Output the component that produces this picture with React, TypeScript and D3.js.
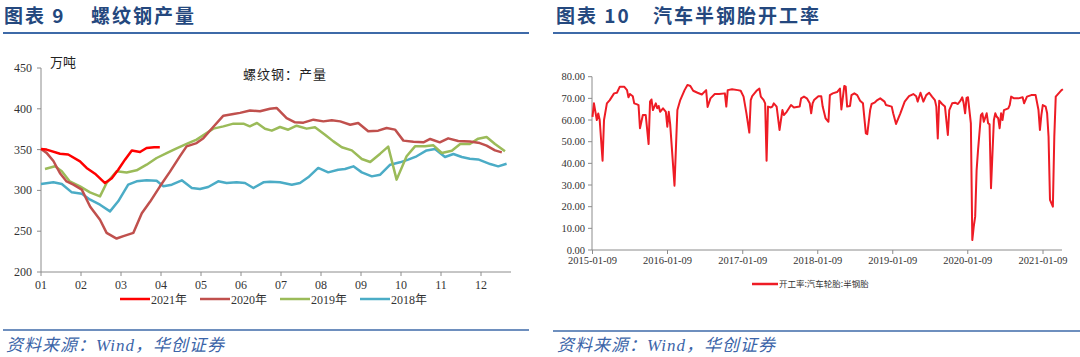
import React from "react";
import * as d3 from "d3";

// ---------- Left chart: 螺纹钢产量 (万吨), x = month position (1 = Jan) ----------
const monthLabels = ["01","02","03","04","05","06","07","08","09","10","11","12"];
const leftYTicks = [200, 250, 300, 350, 400, 450];
const seriesNames = ["2021年", "2020年", "2019年", "2018年"];

const s2021: [number, number][] = [[1.0,350.7],[1.14,350],[1.475,345],[1.68,344],[1.975,335.6],[2.14,327.5],[2.35,320.5],[2.6,309],[2.77,315],[2.93,325.4],[3.1,337.7],[3.27,349],[3.475,347],[3.64,352],[3.83,353],[3.97,353]];
const s2020: [number, number][] = [[1.0,350.7],[1.14,346],[1.31,336],[1.475,321],[1.64,311],[1.81,307],[2.02,301],[2.23,280],[2.475,264],[2.64,248],[2.89,241],[3.06,244],[3.31,248],[3.52,272],[3.725,286],[3.975,305],[4.225,323],[4.475,342],[4.64,354],[4.89,358],[5.06,364],[5.31,378],[5.56,391.6],[5.81,393.6],[5.975,395],[6.225,398],[6.475,397],[6.725,400],[6.89,401],[7.14,388.7],[7.35,383.4],[7.56,383],[7.81,386.7],[8.06,384.6],[8.27,385.9],[8.48,384.6],[8.73,380.5],[8.93,382.6],[9.18,372.4],[9.43,373.2],[9.64,376.5],[9.85,374.5],[10.06,361],[10.31,359.7],[10.56,358.9],[10.73,363],[10.97,358.9],[11.18,363.8],[11.43,360.5],[11.72,360],[11.97,358],[12.14,354.8],[12.35,349],[12.52,346.6]];
const s2019: [number, number][] = [[1.1,326.2],[1.35,329.5],[1.52,323.4],[1.72,311],[1.975,305],[2.225,297.6],[2.475,292.7],[2.64,309],[2.89,323.4],[3.14,322],[3.39,324.6],[3.64,331.5],[3.89,339.7],[4.14,345.8],[4.39,351.6],[4.64,356.9],[4.89,362.2],[5.14,370.3],[5.31,375.7],[5.56,378.5],[5.81,381.8],[6.06,381.8],[6.22,378.5],[6.4,382.6],[6.6,375.5],[6.77,373.2],[6.975,377.7],[7.18,374.4],[7.39,379.3],[7.64,375.7],[7.85,377.3],[8.1,368.3],[8.31,360.1],[8.52,352.8],[8.77,349],[9.02,338.5],[9.23,334.8],[9.48,345],[9.68,353.6],[9.89,313.2],[10.14,341.8],[10.35,354],[10.6,354],[10.81,355.2],[11.02,345.8],[11.27,348.7],[11.48,356.9],[11.72,356.9],[11.93,363.4],[12.14,365.5],[12.35,356.9],[12.6,347.9]];
const s2018: [number, number][] = [[1.0,307.8],[1.31,309.9],[1.52,307.8],[1.77,297.6],[2.02,296],[2.23,288.6],[2.475,282.5],[2.725,274.3],[2.93,286.6],[3.18,307],[3.39,311.1],[3.64,312.3],[3.89,311.9],[4.06,305],[4.27,307],[4.52,312.3],[4.77,302.9],[4.975,301.7],[5.18,304.2],[5.43,311.1],[5.64,309.1],[5.89,309.9],[6.1,309.1],[6.31,302.9],[6.56,309.9],[6.725,310.7],[6.975,309.9],[7.27,307],[7.475,309.1],[7.68,316],[7.93,327.5],[8.18,322.1],[8.43,325.4],[8.6,326.2],[8.81,329.5],[9.02,322.1],[9.27,317.2],[9.48,319.3],[9.73,331.5],[9.975,334.4],[10.18,337.7],[10.39,341.8],[10.64,349],[10.85,350.7],[11.1,340.9],[11.31,344.6],[11.52,340.9],[11.72,338.9],[11.93,338],[12.23,332.3],[12.43,329.5],[12.64,332.7]];

// ---------- Right chart: 开工率:汽车轮胎:半钢胎 (%), x = weeks since 2015-01-09 ----------
const rightYTicks = [0, 10, 20, 30, 40, 50, 60, 70, 80];
const rightXTickLabels = ["2015-01-09","2016-01-09","2017-01-09","2018-01-09","2019-01-09","2020-01-09","2021-01-09"];
const rateWeeks: number[] = [0,1,3,4,5,7,8,10,12,15,17,19,22,24,25,26,28,29,31,32,33,35,37,39,40,41,42,44,45,46,47,49,51,52,53,54,57,59,61,64,66,68,70,73,76,79,80,82,85,88,92,93,94,97,101,103,105,107,109,110,111,114,116,117,119,120,121,122,124,125,126,128,130,132,133,135,138,140,144,145,147,149,151,152,153,154,157,159,160,162,164,165,167,170,172,173,175,176,177,179,180,182,184,186,188,190,191,193,194,196,198,200,203,204,208,209,211,214,217,220,223,225,226,228,230,232,234,236,238,239,240,241,243,245,247,248,250,252,254,256,257,258,259,260,261,263,264,265,266,267,268,270,271,272,274,275,276,277,279,280,281,282,283,284,285,286,289,290,291,293,296,299,300,302,305,308,310,311,312,313,315,316,317,318,320,321,322,324,326,327];
const rateValues: number[] = [61.5,67.7,60,63,60,41.2,60,67.7,69.2,72.3,72.6,75.4,75.4,73.8,70.5,72,71,67.7,67.2,66.9,56.2,62.3,62.3,48.9,68.5,69.5,64.6,67.7,65.4,66.5,63.8,65.4,63.8,56.9,63.8,58,29.7,64.6,69.2,73.8,76.2,75.7,73.5,72.6,71.8,73.8,66,70,72,72,72.3,66.2,73.8,74.2,73.8,73.5,70.8,63.1,54.2,69.2,71,73.5,74.5,70.8,69.2,67.7,41.2,66.2,65.8,66.2,67.7,66.2,55.4,64.6,62.3,63.8,66.9,65.8,66.2,70,70.8,70,67.7,63.1,67.7,69.2,71,71,66.2,60.8,59.2,71.5,72.3,72.9,74.5,64.9,75.7,75.4,66.2,66.5,71.5,72.3,71.5,68.9,67.7,53.8,53.5,64.6,67.4,68,69.2,70,68.5,66.9,66.2,63.1,58.2,63.1,68.5,71,72,71,68.5,72.6,68.5,71.5,72.6,70.8,69.2,66.2,51.5,68.9,67.4,66.2,53.1,64.6,67.7,68,67.4,69.2,70.5,67.7,63.1,70.2,70.5,58.5,4.6,10.8,15.4,36.9,46.2,62.3,63.1,59.2,63.1,58.5,58,28.5,60,63.1,61.5,60.8,56.2,63.1,60,64.6,65.4,66.9,70.8,70,70,70.5,67.7,70.8,71.5,71.5,64.6,55.4,62.3,66.9,66.2,63.1,52.3,23.1,20,52.3,70.8,72.3,73.8,74.2];

const W = 1080, H = 357;
const TITLE_BLUE = "#24487e";
const RULE_BLUE = "#3e6aa8";
const SERIF = "'Liberation Serif', 'Times New Roman', 'Noto Sans CJK SC', serif";
const CJK = "'Noto Sans CJK SC', sans-serif";
const AXIS = "#8c8c8c";

export default function App() {
  // Left scales
  const lx = d3.scaleLinear().domain([1, 12.75]).range([41, 511]);
  const ly = d3.scaleLinear().domain([200, 450]).range([272, 68]);
  const lline = d3.line<[number, number]>().x(d => lx(d[0])).y(d => ly(d[1]));
  const leftSeries = [
    { name: seriesNames[3], data: s2018, color: "#4bacc6" },
    { name: seriesNames[2], data: s2019, color: "#9bbb59" },
    { name: seriesNames[1], data: s2020, color: "#c0504d" },
    { name: seriesNames[0], data: s2021, color: "#ff0000" },
  ];
  const legendOrder = [...leftSeries].reverse();
  const legendX = [120, 200, 280, 360];

  // Right scales
  const start = new Date(2015, 0, 9);
  const rx = d3.scaleTime().domain([start, new Date(2021, 0, 9)]).range([592.5, 1043]);
  const ry = d3.scaleLinear().domain([0, 80]).range([250, 76.7]);
  const rData = rateWeeks.map((w, i) => [d3.timeDay.offset(start, w * 7), rateValues[i]] as [Date, number]);
  const rline = d3.line<[Date, number]>().x(d => rx(d[0])).y(d => ry(d[1]));
  const rTicks = rightXTickLabels.map(s => d3.timeParse("%Y-%m-%d")(s) as Date);

  return (
    <svg width={W} height={H} style={{ position: "absolute", left: 0, top: 0, background: "#fff" }}>
      {/* ===== Left panel ===== */}
      <text x={4} y={23} fontFamily={CJK} fontWeight={700} fontSize={19} fill={TITLE_BLUE} letterSpacing={2}>图表 9</text>
      <text x={91} y={23} fontFamily={CJK} fontWeight={700} fontSize={19} fill={TITLE_BLUE} letterSpacing={2}>螺纹钢产量</text>
      <line x1={3} x2={529} y1={33} y2={33} stroke={RULE_BLUE} strokeWidth={2} />

      <text x={50} y={67} fontFamily={CJK} fontSize={13} fill="#222">万吨</text>
      <text x={243} y={79} fontFamily={CJK} fontSize={13} fill="#222" letterSpacing={1}>螺纹钢：产量</text>

      {/* y axis */}
      <line x1={lx(1)} x2={lx(1)} y1={ly(450)} y2={ly(200)} stroke={AXIS} />
      {leftYTicks.map(t => (
        <g key={t}>
          <line x1={lx(1) - 4} x2={lx(1)} y1={ly(t)} y2={ly(t)} stroke={AXIS} />
          <text x={32} y={ly(t) + 4} textAnchor="end" fontFamily={SERIF} fontSize={12} fill="#333">{t}</text>
        </g>
      ))}
      {/* x axis */}
      <line x1={lx(1)} x2={lx(12.75)} y1={ly(200)} y2={ly(200)} stroke={AXIS} />
      {monthLabels.map((m, i) => (
        <g key={m}>
          <line x1={lx(i + 1)} x2={lx(i + 1)} y1={ly(200)} y2={ly(200) + 4} stroke={AXIS} />
          <text x={lx(i + 1)} y={ly(200) + 17} textAnchor="middle" fontFamily={SERIF} fontSize={12} fill="#333">{m}</text>
        </g>
      ))}
      {leftSeries.map(s => (
        <path key={s.name} d={lline(s.data) || ""} fill="none" stroke={s.color} strokeWidth={2.5} strokeLinejoin="round" />
      ))}
      {legendOrder.map((s, i) => (
        <g key={s.name}>
          <line x1={legendX[i]} x2={legendX[i] + 30} y1={299} y2={299} stroke={s.color} strokeWidth={2.5} />
          <text x={legendX[i] + 31} y={303.5} fontFamily={SERIF} fontSize={12} fill="#333">{s.name}</text>
        </g>
      ))}

      <line x1={3} x2={529} y1={330} y2={330} stroke={RULE_BLUE} strokeWidth={1.5} />
      <text x={6} y={351} fontFamily={SERIF} fontStyle="italic" fontSize={17} fill="#3b64a8" letterSpacing={1}>资料来源：Wind，华创证券</text>

      {/* ===== Right panel ===== */}
      <text x={556} y={23} fontFamily={CJK} fontWeight={700} fontSize={19} fill={TITLE_BLUE} letterSpacing={2}>图表 10</text>
      <text x={653} y={23} fontFamily={CJK} fontWeight={700} fontSize={19} fill={TITLE_BLUE} letterSpacing={2}>汽车半钢胎开工率</text>
      <line x1={553} x2={1080} y1={33} y2={33} stroke={RULE_BLUE} strokeWidth={2} />

      <line x1={592} x2={592} y1={ry(80)} y2={ry(0)} stroke={AXIS} />
      {rightYTicks.map(t => (
        <g key={t}>
          <line x1={588} x2={592} y1={ry(t)} y2={ry(t)} stroke={AXIS} />
          <text x={585} y={ry(t) + 3.5} textAnchor="end" fontFamily={SERIF} fontSize={10.5} fill="#333">{t.toFixed(2)}</text>
        </g>
      ))}
      <line x1={592} x2={1062} y1={ry(0)} y2={ry(0)} stroke={AXIS} />
      {rTicks.map((d, i) => (
        <g key={i}>
          <line x1={rx(d)} x2={rx(d)} y1={ry(0)} y2={ry(0) + 4} stroke={AXIS} />
          <text x={rx(d)} y={ry(0) + 14} textAnchor="middle" fontFamily={SERIF} fontSize={10.5} fill="#333">{rightXTickLabels[i]}</text>
        </g>
      ))}
      <path d={rline(rData) || ""} fill="none" stroke="#ee1c25" strokeWidth={2} strokeLinejoin="round" />

      <line x1={752} x2={778} y1={284} y2={284} stroke="#ee1c25" strokeWidth={2.5} />
      <text x={779} y={287} fontFamily={CJK} fontSize={8.5} fill="#333">开工率:汽车轮胎:半钢胎</text>

      <line x1={553} x2={1080} y1={331} y2={331} stroke={RULE_BLUE} strokeWidth={1.5} />
      <text x={557} y={351} fontFamily={SERIF} fontStyle="italic" fontSize={17} fill="#3b64a8" letterSpacing={1}>资料来源：Wind，华创证券</text>
    </svg>
  );
}
